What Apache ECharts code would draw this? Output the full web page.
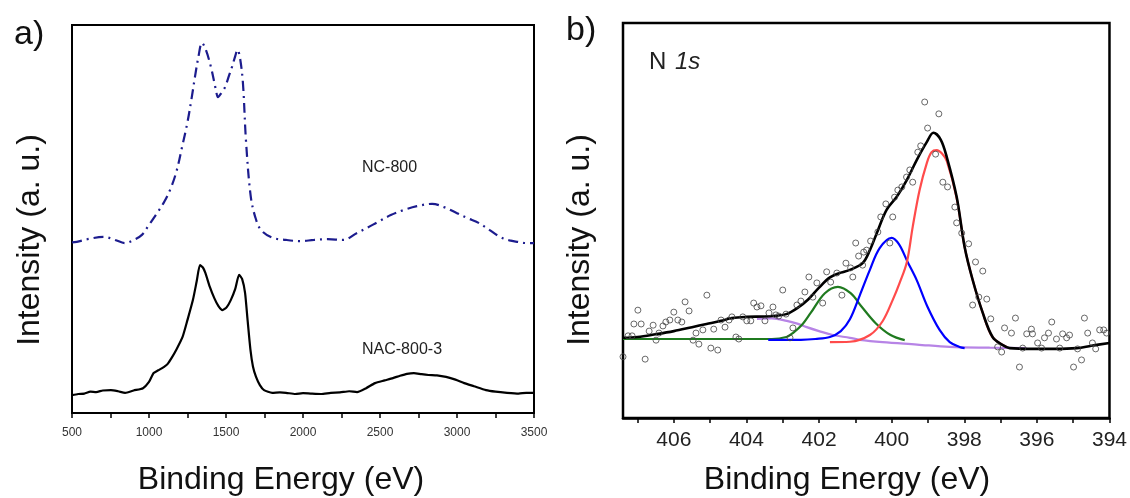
<!DOCTYPE html>
<html><head><meta charset="utf-8">
<script src="https://cdn.jsdelivr.net/npm/echarts@6/dist/echarts.min.js"></script>
<style>html,body{margin:0;padding:0;background:#fff}#c{width:1130px;height:498px}</style>
</head><body><div id="c"></div>
<script>
// ---------- Panel a) : Raman-like spectra ----------
const ramanTickLabels = [500, 1000, 1500, 2000, 2500, 3000, 3500];
const ncEnergy = [500,531,600,705,780,845,900,954,1000,1052,1100,1144,1180,1215,1250,1275,1300,1321,1344,1370,1402,1435,1448,1470,1494,1520,1539,1560,1575,1591,1610,1630,1660,1690,1727,1800,1890,1980,2071,2160,2260,2351,2420,2485,2570,2653,2740,2838,2920,3000,3070,3140,3210,3279,3340,3396,3450,3500];
const ncIntensity = [44.0,44.1,44.8,45.4,44.6,43.8,44.6,45.9,48.5,51.5,54.5,58.2,62.5,68.6,75,80.7,87,91.8,95.4,93.5,89.2,83.2,81.4,82.5,84.0,87,89.2,92,93.6,91.5,85,70,56,50.5,47.2,45.2,44.6,44.3,44.6,44.8,44.6,46.4,47.8,49.2,51,52.3,53.3,53.9,53,51.5,50.2,49.0,47.2,45.4,44.5,44.1,43.8,43.8];
const nacEnergy = [500,540,580,620,657,700,753,800,845,900,961,1000,1030,1060,1098,1120,1147,1180,1218,1250,1285,1310,1331,1350,1366,1395,1424,1450,1477,1505,1531,1560,1585,1605,1624,1640,1659,1675,1695,1720,1747,1800,1850,1890,1950,2000,2050,2117,2180,2240,2300,2351,2410,2468,2530,2584,2630,2675,2720,2770,2815,2870,2929,2990,3047,3110,3188,3250,3325,3400,3450,3500];
const nacIntensity = [4.6,4.9,5.0,5.5,5.4,5.8,5.9,5.6,5.2,5.8,6.4,8.0,10.3,11.0,11.9,12.6,14.2,16.5,19.6,24,29.1,34,38.1,37.5,36.1,32.5,29.6,27.6,26.5,27.3,29.1,32,35.6,34.5,30.9,24,16.2,12,9.3,7.2,5.9,5.2,5.3,5.2,4.9,5.1,5.0,4.9,5.2,5.3,5.6,5.4,6.4,7.7,8.4,9.0,9.6,10.1,10.3,10.0,9.8,9.7,9.3,8.6,7.7,6.9,5.9,5.5,5.2,5.0,5.2,5.2];

// ---------- Panel b) : N 1s XPS ----------
const xpsTickLabels = [394, 396, 398, 400, 402, 404, 406];
const envelopeE = [407.4,407.0,406.5,406.0,405.5,405.1,404.7,404.4,404.0,403.5,403.2,402.9,402.6,402.3,402.0,401.7,401.4,401.15,400.8,400.6,400.41,400.14,399.86,399.58,399.31,399.03,398.85,398.65,398.48,398.21,397.99,397.77,397.49,397.22,396.95,396.75,396.12,395.5,394.9,394.5,394.0];
const envelopeV = [20.3,20.5,21.2,22.0,23.0,23.8,24.6,25.3,25.6,25.7,25.9,26.3,27.8,30.0,33.0,35.6,36.8,37.5,39.2,42.5,46.8,52.7,56.0,60.3,65.3,69.9,72.2,70.5,66,56,43.3,35,26.6,20.5,18.5,17.7,17.5,17.5,17.7,18.3,19.0];
const redE = [401.7,401.15,400.6,400.25,399.97,399.78,399.58,399.42,399.23,399.03,398.9,398.76,398.62,398.48,398.21,397.99,397.77,397.49,397.22,396.83];
const redV = [19.2,19.3,21.0,24.5,29.9,34.2,39.5,48.4,57.7,64.6,67.3,67.8,67.0,65.0,55.7,43.3,35,26.6,20.5,18.0];
const blueE = [403.4,402.5,402.1,401.7,401.4,401.15,400.88,400.6,400.33,400.0,399.8,399.56,399.31,399.01,398.68,398.4,398.13,397.99];
const blueV = [19.8,19.8,20.0,20.5,22.0,25.0,31.0,37.5,43.0,45.6,44.0,39.5,34.9,28.1,22.3,19.2,18.0,17.7];
const greenE = [407.4,403.3,402.9,402.72,402.45,402.23,401.84,401.48,401.13,400.82,400.44,400.03,399.64];
const greenV = [20.0,20.0,20.5,21.5,23.8,26.6,31.6,33.2,31.6,28.1,24.0,21.0,19.7];
const purpleE = [403.71,403.3,402.89,402.6,402.34,402.0,401.62,401.15,400.88,400.25,399.3,398.4,397.3,396.28];
const purpleV = [25.1,25.2,24.6,23.9,23.0,22.0,21.0,20.3,19.8,19.2,18.6,18.0,17.8,17.7];
const measuredE = [407.4,407.26,407.15,407.10,406.99,406.90,406.79,406.68,406.57,406.49,406.41,406.30,406.22,406.11,406.00,405.89,405.78,405.69,405.58,405.47,405.39,405.31,405.20,405.09,404.98,404.90,404.79,404.70,404.59,404.48,404.40,404.29,404.21,404.10,403.99,403.88,403.80,403.71,403.60,403.49,403.38,403.27,403.19,403.11,403.00,402.91,402.80,402.72,402.61,402.50,402.39,402.28,402.17,402.06,401.90,401.79,401.68,401.51,401.37,401.26,401.13,401.07,400.99,400.91,400.80,400.77,400.69,400.58,400.38,400.30,400.16,400.05,399.97,399.92,399.83,399.72,399.59,399.50,399.42,399.28,399.20,399.09,399.01,398.79,398.70,398.59,398.46,398.26,398.21,398.07,397.88,397.77,397.69,397.60,397.49,397.38,397.27,397.08,396.97,396.89,396.70,396.59,396.48,396.39,396.28,396.15,396.12,395.98,395.87,395.79,395.68,395.59,395.46,395.37,395.29,395.18,395.10,394.99,394.88,394.77,394.69,394.60,394.47,394.38,394.27,394.16,394.08];
const measuredV = [15.5,20.8,20.8,23.8,27.3,23.8,14.9,22.0,23.5,19.7,21.5,23.3,24.3,24.8,26.8,24.8,24.3,29.4,27.1,19.7,21.5,18.7,22.3,31.1,17.7,22.5,17.2,24.8,23.0,24.8,25.6,20.5,20.0,25.6,24.6,24.6,29.1,28.1,28.4,24.6,26.6,28.1,26.1,25.8,32.4,26.3,20.3,22.8,28.6,29.6,31.9,35.7,30.6,34.2,29.1,37.0,34.4,36.7,31.1,39.2,38.0,35.7,44.3,41.0,38.7,42.0,42.5,44.8,47.1,50.9,54.2,44.3,50.9,55.9,57.7,58.5,61.0,62.8,59.7,67.3,68.9,80.0,73.4,66.8,77.0,59.7,58.5,53.4,49.4,46.8,44.1,28.6,39.5,30.6,37.2,30.1,25.1,18.0,16.7,22.8,21.5,25.3,12.9,17.7,21.3,22.5,21.3,19.0,17.7,20.3,21.5,24.3,20.0,17.7,21.3,20.3,21.0,12.9,17.5,14.7,25.3,21.5,19.0,17.5,22.3,22.3,21.5];

const zip = (a, b) => a.map((v, i) => [v, b[i]]);
const FONT = 'Liberation Sans, Arial, sans-serif';

const chart = echarts.init(document.getElementById('c'), null, {renderer: 'canvas'});
const hiddenY = (gi) => ({
  type: 'value', gridIndex: gi, min: 0, max: 100,
  axisLine: {show: true, lineStyle: {color: '#000', width: 2}},
  axisTick: {show: false}, axisLabel: {show: false}, splitLine: {show: false}
});
const lineS = (name, xi, data, color, width, extra) => Object.assign({
  name, type: 'line', xAxisIndex: xi, yAxisIndex: xi, data,
  showSymbol: false, symbol: 'none', smooth: 0.35, animation: false,
  lineStyle: {color, width}, z: 3
}, extra || {});

chart.setOption({
  animation: false,
  backgroundColor: '#fff',
  grid: [
    {left: 72, top: 25, width: 462, height: 388, show: true, borderColor: '#000', borderWidth: 2, backgroundColor: 'transparent'},
    {left: 623, top: 23, width: 487, height: 395, show: true, borderColor: '#000', borderWidth: 2.5, backgroundColor: 'transparent'}
  ],
  xAxis: [
    {
      type: 'value', gridIndex: 0, min: 500, max: 3500, interval: 250,
      axisLine: {show: true, lineStyle: {color: '#000', width: 2}},
      axisTick: {show: true, inside: false, length: 5, lineStyle: {color: '#000', width: 1.5}},
      axisLabel: {show: true, fontSize: 12, color: '#333', fontFamily: FONT, margin: 14,
        formatter: v => ramanTickLabels.includes(v) ? String(v) : ''},
      splitLine: {show: false}
    },
    {
      type: 'value', gridIndex: 1, min: 394, max: 407.4, interval: 1, inverse: true,
      axisLine: {show: true, lineStyle: {color: '#000', width: 2.5}},
      axisTick: {show: true, inside: false, length: 5, lineStyle: {color: '#000', width: 1.5}},
      axisLabel: {show: true, fontSize: 21, color: '#222', fontFamily: FONT, margin: 12, showMaxLabel: false,
        formatter: v => xpsTickLabels.includes(v) ? String(v) : ''},
      splitLine: {show: false}
    }
  ],
  yAxis: [hiddenY(0), hiddenY(1)],
  series: [
    lineS('NC-800', 0, zip(ncEnergy, ncIntensity), '#1c1c8e', 2, {lineStyle: {color: '#1c1c8e', width: 2.2, type: [10, 5, 2, 5]}}),
    lineS('NAC-800-3', 0, zip(nacEnergy, nacIntensity), '#000', 2.2, {smooth: 0.2}),
    lineS('background', 1, zip(purpleE, purpleV), '#b784e6', 2.2),
    lineS('green', 1, zip(greenE, greenV), '#1f7a1f', 2.2),
    lineS('blue', 1, zip(blueE, blueV), '#0000ff', 2.2),
    lineS('red', 1, zip(redE, redV), '#ff4b4b', 2.2),
    lineS('envelope', 1, zip(envelopeE, envelopeV), '#000', 2.6),
    {
      name: 'measured', type: 'scatter', xAxisIndex: 1, yAxisIndex: 1,
      data: zip(measuredE, measuredV), symbol: 'circle', symbolSize: 6,
      itemStyle: {color: 'rgba(255,255,255,0)', borderColor: '#444', borderWidth: 1}, z: 5, animation: false
    }
  ],
  graphic: [
    {type: 'text', x: 14, y: 18, style: {text: 'a)', font: '34px ' + FONT, fill: '#111'}},
    {type: 'text', x: 566, y: 14, style: {text: 'b)', font: '34px ' + FONT, fill: '#111'}},
    {type: 'text', x: 362, y: 160, style: {text: 'NC-800', font: '16px ' + FONT, fill: '#222'}},
    {type: 'text', x: 362, y: 342, style: {text: 'NAC-800-3', font: '16px ' + FONT, fill: '#222'}},
    {type: 'text', x: 649, y: 50, style: {text: 'N', font: '24px ' + FONT, fill: '#222'}},
    {type: 'text', x: 675, y: 50, style: {text: '1s', font: 'italic 24px ' + FONT, fill: '#222'}},
    {type: 'text', x: 30, y: 240, rotation: Math.PI / 2,
      style: {text: 'Intensity (a. u.)', font: '32px ' + FONT, fill: '#111', align: 'center', verticalAlign: 'middle', textAlign: 'center', textVerticalAlign: 'middle'}},
    {type: 'text', x: 580, y: 240, rotation: Math.PI / 2,
      style: {text: 'Intensity (a. u.)', font: '32px ' + FONT, fill: '#111', align: 'center', verticalAlign: 'middle', textAlign: 'center', textVerticalAlign: 'middle'}},
    {type: 'text', x: 281, y: 480,
      style: {text: 'Binding Energy (eV)', font: '32px ' + FONT, fill: '#111', align: 'center', verticalAlign: 'middle', textAlign: 'center', textVerticalAlign: 'middle'}},
    {type: 'text', x: 847, y: 480,
      style: {text: 'Binding Energy (eV)', font: '32px ' + FONT, fill: '#111', align: 'center', verticalAlign: 'middle', textAlign: 'center', textVerticalAlign: 'middle'}}
  ]
});
</script>
</body></html>
